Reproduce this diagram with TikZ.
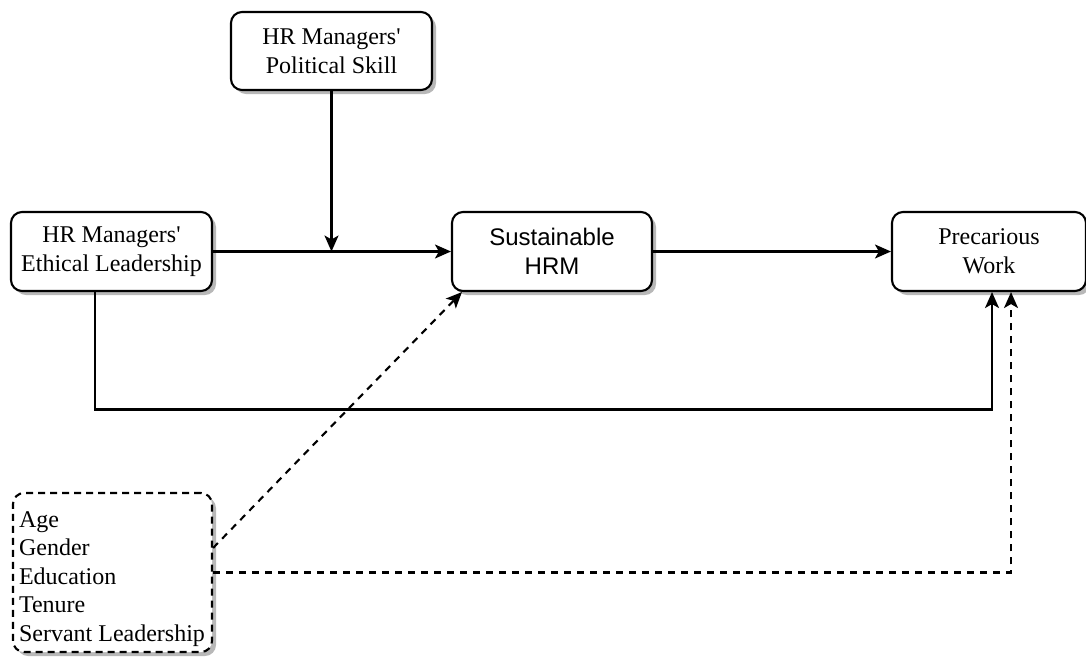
\documentclass[tikz,border=0pt]{standalone}
\usepackage{fontspec}
\setmainfont{Liberation Serif}[Ligatures=TeXOff]
\newfontfamily\arialfont{Liberation Sans}
\usetikzlibrary{arrows.meta,shadows,calc}
\begin{document}
\begin{tikzpicture}[x=1pt,y=-1pt,
  box/.style={draw=black, line width=2.1pt, rounded corners=11pt, fill=white,
    drop shadow={shadow xshift=4pt, shadow yshift=-4pt, fill=black!28, opacity=1},
    align=center, inner sep=0pt, font=\fontsize{24}{29}\selectfont},
  arr/.style={line width=2.1pt, -{Stealth[length=16pt,width=14pt,inset=4pt]}},
  darr/.style={arr, dash pattern=on 7pt off 6pt}]
\useasboundingbox (0,0) rectangle (1086,657);
\node[box, minimum width=201pt, minimum height=78pt] (T) at (331.5,51) {HR Managers'\\Political Skill};
\node[box, minimum width=201pt, minimum height=79pt] (L) at (111.5,251.5) {HR Managers'\\Ethical Leadership};
\node[box, minimum width=200pt, minimum height=79pt, font=\arialfont\fontsize{24}{29}\selectfont] (S) at (552,251.5) {Sustainable\\HRM};
\node[box, minimum width=194pt, minimum height=79pt] (R) at (989,251.5) {Precarious\\Work};
\node[box, dash pattern=on 7pt off 5pt, minimum width=199pt, minimum height=159pt] (C) at (112.5,572.5) {};
\node[align=left, inner sep=0pt, font=\fontsize{24}{28.5}\selectfont, anchor=center] (Ct) at (112,579) {Age\\Gender\\Education\\Tenure\\Servant Leadership};
\draw[arr] (T.south) -- (T.south |- L.east);
\draw[arr] (L.east) -- (S.west);
\draw[arr] (S.east) -- (R.west);
\draw[arr] ([xshift=-16.5pt]L.south) |- (992,409.5) -- ([xshift=3pt]R.south);
\draw[darr] ([yshift=24.5pt]C.east) -- ([xshift=11pt]S.south west);
\draw[darr] (C.east) -| ([xshift=22pt]R.south);
\end{tikzpicture}
\end{document}
